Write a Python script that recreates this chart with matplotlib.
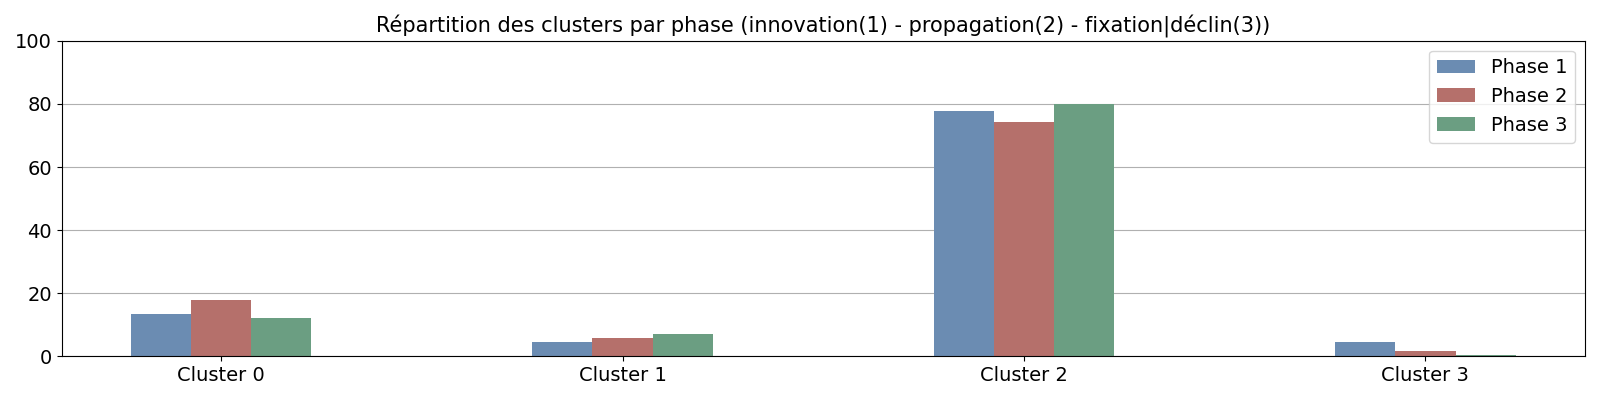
import matplotlib
matplotlib.use("Agg")
import matplotlib.pyplot as plt
import numpy as np

# Cluster share (%) per phase
clusters = ["Cluster 0", "Cluster 1", "Cluster 2", "Cluster 3"]
phase_names = ["Phase 1", "Phase 2", "Phase 3"]
phase1 = [13.5, 4.5, 77.8, 4.4]
phase2 = [17.9, 5.7, 74.3, 1.8]
phase3 = [12.1, 7.0, 80.0, 0.5]
colors = ["#6b8cb2", "#b5706b", "#6b9e82"]

x = np.arange(len(clusters))
width = 0.15

fig, ax = plt.subplots(figsize=(16, 4), dpi=100)
for i, (vals, name) in enumerate(zip([phase1, phase2, phase3], phase_names)):
    ax.bar(x + (i - 1) * width, vals, width, label=name, color=colors[i])

ax.set_xticks(x)
ax.set_xticklabels(clusters)
ax.set_ylim(0, 100)
ax.tick_params(labelsize=14)
ax.yaxis.grid(True, color="#b0b0b0")
ax.set_axisbelow(True)
ax.legend(loc="upper right", fontsize=14)
ax.set_title("Répartition des clusters par phase (innovation(1) - propagation(2) - fixation|déclin(3))",
             fontsize=15)

plt.tight_layout()
plt.savefig("out.png")
